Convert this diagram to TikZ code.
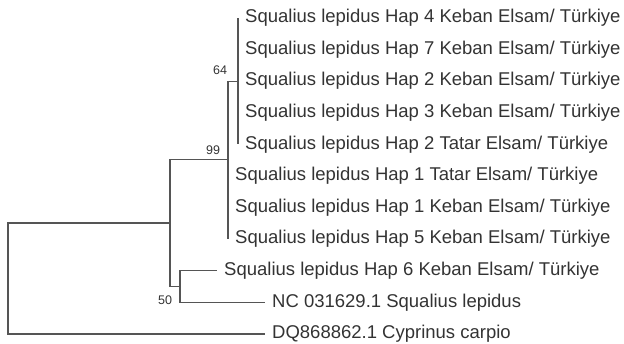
\documentclass[tikz,border=0pt]{standalone}
\usepackage{fontspec}
\setmainfont{Liberation Sans}
\usepackage{xcolor}
\usetikzlibrary{positioning}

\definecolor{branchgray}{HTML}{555555}
\definecolor{labelgray}{HTML}{333333}

\begin{document}
\begin{tikzpicture}[
    x=1pt, y=-1pt,
    branch/.style={draw=branchgray, line width=1.2pt},
    leaf/.style={anchor=west, inner xsep=7pt, inner ysep=0pt, text=labelgray, font=\fontsize{18.5}{20}\selectfont},
    boot/.style={inner sep=0pt, text=labelgray, font=\fontsize{12.5}{14}\selectfont}
]
\useasboundingbox (0,0) rectangle (624,344);

% tips
\coordinate (tK4) at (238, 18);
\coordinate (tK7) at (238, 49.6);
\coordinate (tK2) at (238, 81.2);
\coordinate (tK3) at (238, 112.8);
\coordinate (tT2) at (238, 144.4);
\coordinate (tT1) at (228, 176);
\coordinate (tK1) at (228, 207.6);
\coordinate (tK5) at (228, 239.2);
\coordinate (tK6) at (217, 270.8);
\coordinate (tNC) at (265, 302.4);
\coordinate (tDQ) at (265, 334);

% internal nodes
\coordinate (c64) at (238, 81.2);
\coordinate (c99) at (228, 159.7);
\coordinate (c50) at (180, 286.6);
\coordinate (n99) at (170, 223.1);
\coordinate (root) at (8, 278.6);

% labels
\node[leaf] (lK4) at (tK4) {Squalius lepidus Hap 4 Keban Elsam/ Türkiye};
\node[leaf] (lK7) at (tK7) {Squalius lepidus Hap 7 Keban Elsam/ Türkiye};
\node[leaf] (lK2) at (tK2) {Squalius lepidus Hap 2 Keban Elsam/ Türkiye};
\node[leaf] (lK3) at (tK3) {Squalius lepidus Hap 3 Keban Elsam/ Türkiye};
\node[leaf] (lT2) at (tT2) {Squalius lepidus Hap 2 Tatar Elsam/ Türkiye};
\node[leaf] (lT1) at (tT1) {Squalius lepidus Hap 1 Tatar Elsam/ Türkiye};
\node[leaf] (lK1) at (tK1) {Squalius lepidus Hap 1 Keban Elsam/ Türkiye};
\node[leaf] (lK5) at (tK5) {Squalius lepidus Hap 5 Keban Elsam/ Türkiye};
\node[leaf] (lK6) at (tK6) {Squalius lepidus Hap 6 Keban Elsam/ Türkiye};
\node[leaf] (lNC) at (tNC) {NC 031629.1 Squalius lepidus};
\node[leaf] (lDQ) at (tDQ) {DQ868862.1 Cyprinus carpio};

% branches
\draw[branch] (c64) |- (tK4);
\draw[branch] (c64) |- (tT2);
\draw[branch] (c99) |- (c64);
\draw[branch] (c99) |- (tK5);
\draw[branch] (n99) |- (c99);
\draw[branch] (n99) |- (c50);
\draw[branch] (c50) |- (tK6);
\draw[branch] (c50) |- (tNC);
\draw[branch] (root) |- (n99);
\draw[branch] (root) |- (tDQ);

% bootstrap values
\node[boot] (b64) at (220, 70) {64};
\node[boot] (b99) at (213, 150) {99};
\node[boot] (b50) at (165, 300) {50};

\end{tikzpicture}
\end{document}
